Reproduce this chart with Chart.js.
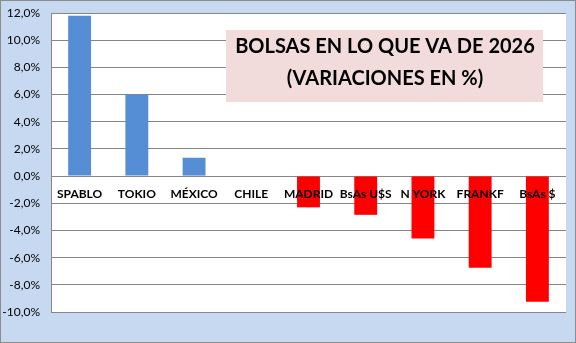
<!DOCTYPE html>
<html>
<head>
<meta charset="utf-8">
<script src="https://cdn.jsdelivr.net/npm/chart.js@4"></script>
<style>
  html, body { margin: 0; padding: 0; background: #c6d9f1; }
  #wrap { width: 576px; height: 343px; position: relative; }
</style>
</head>
<body>
<div id="wrap"><canvas id="chart"></canvas></div>
<script>
// Datos
const bolsas = ['SPABLO', 'TOKIO', 'MÉXICO', 'CHILE', 'MADRID', 'BsAs U$S', 'N YORK', 'FRANKF', 'BsAs $'];
const variaciones = [11.8, 6.0, 1.35, 0, -2.3, -2.85, -4.6, -6.75, -9.25];
const tituloLineas = ['BOLSAS EN LO QUE VA DE 2026', '(VARIACIONES EN %)'];

const FONT = 'Lato, "Open Sans", sans-serif';

// fondo blanco del área de trazado y borde exterior
const fondoPlugin = {
  id: 'fondo',
  beforeDraw(chart) {
    const { ctx, chartArea: a, width, height } = chart;
    ctx.save();
    ctx.fillStyle = '#c6d9f1';
    ctx.fillRect(0, 0, width, height);
    ctx.fillStyle = '#ffffff';
    ctx.fillRect(a.left, a.top, a.right - a.left, a.bottom - a.top);
    ctx.strokeStyle = '#8c8c8c';
    ctx.lineWidth = 1;
    ctx.strokeRect(0.5, 0.5, width - 1, height - 1);
    ctx.restore();
  }
};

// etiquetas de categoría sobre la línea del cero y cuadro de título
const etiquetasPlugin = {
  id: 'etiquetas',
  afterDatasetsDraw(chart) {
    const { ctx } = chart;
    const x = chart.scales.x;
    const y = chart.scales.y;
    const y0 = y.getPixelForValue(0);
    ctx.save();
    ctx.fillStyle = '#000000';
    ctx.font = 'bold 12px ' + FONT;
    ctx.textAlign = 'center';
    ctx.textBaseline = 'middle';
    bolsas.forEach((b, i) => {
      ctx.fillText(b, x.getPixelForValue(i), y0 + 18);
    });

    // cuadro del título
    ctx.fillStyle = '#f2dcdb';
    ctx.fillRect(226, 30, 317, 72);
    ctx.fillStyle = '#000000';
    ctx.font = 'bold 20px ' + FONT;
    ctx.fillText(tituloLineas[0], 385, 47);
    ctx.fillText(tituloLineas[1], 385, 79);
    ctx.restore();
  }
};

new Chart(document.getElementById('chart'), {
  type: 'bar',
  data: {
    labels: bolsas,
    datasets: [{
      data: variaciones,
      backgroundColor: variaciones.map(v => v >= 0 ? '#558ed5' : '#ff0000'),
      barPercentage: 0.4,
      categoryPercentage: 1.0
    }]
  },
  options: {
    responsive: true,
    maintainAspectRatio: false,
    animation: false,
    layout: { padding: { left: 0, right: 10, top: 13, bottom: 31 } },
    plugins: {
      legend: { display: false },
      tooltip: { enabled: false }
    },
    scales: {
      x: { display: false },
      y: {
        min: -10,
        max: 12,
        afterFit(scale) {
          scale.width = 51;
          scale.paddingTop = 0;
          scale.paddingBottom = 0;
        },
        ticks: {
          stepSize: 2,
          padding: 11,
          color: '#000000',
          font: { family: FONT, size: 12 },
          callback: v => v.toFixed(1).replace('.', ',') + '%'
        },
        grid: { color: '#868686', lineWidth: 1, drawTicks: false },
        border: { display: true, color: '#868686', width: 1 }
      }
    }
  },
  plugins: [fondoPlugin, etiquetasPlugin]
});
</script>
</body>
</html>
